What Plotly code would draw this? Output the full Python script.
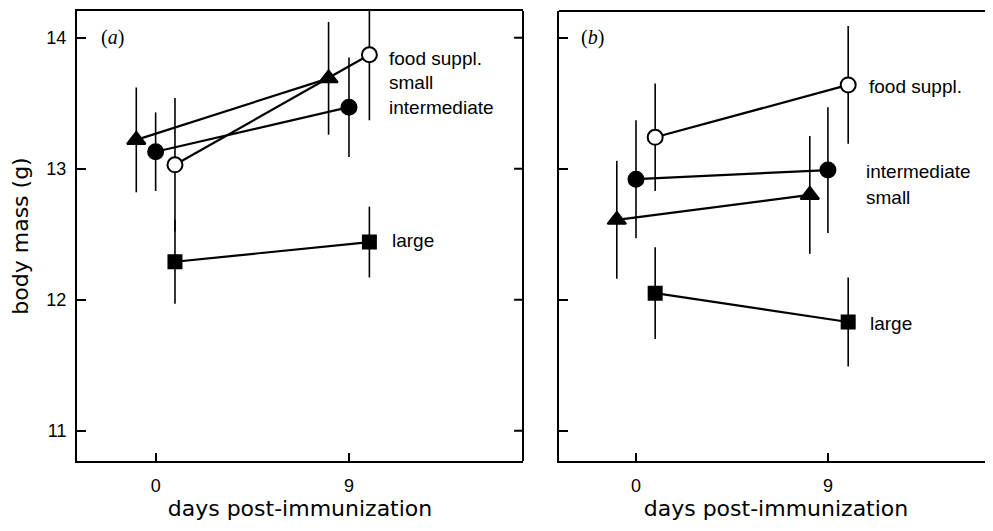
import plotly.graph_objects as go

# ---- data ----
# panel (a)
a_small_x = [-0.9, 8.05]
a_small_y = [13.22, 13.69]
a_small_e = [0.40, 0.43]
a_inter_x = [0, 9]
a_inter_y = [13.13, 13.47]
a_inter_e = [0.30, 0.38]
a_food_x = [0.9, 9.95]
a_food_y = [13.03, 13.87]
a_food_e = [0.51, 0.50]
a_large_x = [0.9, 9.95]
a_large_y = [12.29, 12.44]
a_large_e = [0.32, 0.27]

# panel (b)
b_small_x = [-0.9, 8.15]
b_small_y = [12.61, 12.80]
b_small_e = [0.45, 0.45]
b_inter_x = [0, 9]
b_inter_y = [12.92, 12.99]
b_inter_e = [0.45, 0.48]
b_food_x = [0.9, 9.95]
b_food_y = [13.24, 13.64]
b_food_e = [0.41, 0.45]
b_large_x = [0.9, 9.95]
b_large_y = [12.05, 11.83]
b_large_e = [0.35, 0.34]

x_ticks = [0, 9]
x_ticktext = ["0", "9"]
y_ticks = [11, 12, 13, 14]
y_ticktext = ["11", "12", "13", "14"]

labels_a = [("food suppl.", 10.77, 13.84), ("small", 10.77, 13.66),
            ("intermediate", 10.77, 13.47), ("large", 10.9, 12.45)]
labels_b = [("food suppl.", 10.83, 13.63), ("intermediate", 10.69, 12.98),
            ("small", 10.69, 12.78), ("large", 10.88, 11.82)]

fig = go.Figure()

def add_series(x, y, e, symbol, fill, size, xa, ya):
    fig.add_trace(go.Scatter(
        x=x, y=y, mode="lines+markers", xaxis=xa, yaxis=ya,
        line=dict(color="black", width=2.2),
        marker=dict(symbol=symbol, size=size, color=fill,
                    line=dict(color="black", width=2)),
        error_y=dict(type="data", array=e, visible=True, color="black",
                     thickness=1.6, width=0),
        showlegend=False, hoverinfo="skip"))

add_series(a_large_x, a_large_y, a_large_e, "square", "black", 13, "x", "y")
add_series(a_small_x, a_small_y, a_small_e, "triangle-up", "black", 16, "x", "y")
add_series(a_inter_x, a_inter_y, a_inter_e, "circle", "black", 15, "x", "y")
add_series(a_food_x, a_food_y, a_food_e, "circle", "white", 15, "x", "y")
add_series(b_large_x, b_large_y, b_large_e, "square", "black", 13, "x2", "y2")
add_series(b_small_x, b_small_y, b_small_e, "triangle-up", "black", 16, "x2", "y2")
add_series(b_inter_x, b_inter_y, b_inter_e, "circle", "black", 15, "x2", "y2")
add_series(b_food_x, b_food_y, b_food_e, "circle", "white", 15, "x2", "y2")

tickfont = dict(family="Liberation Sans, Arial, sans-serif", size=18, color="black")
titlefont = dict(family="DejaVu Sans, sans-serif", size=22, color="black")

xcommon = dict(tickvals=x_ticks, ticktext=x_ticktext,
               ticks="inside", ticklen=8, tickwidth=2, tickcolor="black",
               showline=True, linecolor="black", linewidth=2,
               showgrid=False, zeroline=False, tickfont=tickfont,
               ticklabelstandoff=7,
               title=dict(text="days post-immunization", font=titlefont, standoff=0))
ycommon = dict(range=[10.769, 14.204], tickvals=y_ticks, ticktext=y_ticktext,
               ticks="inside", ticklen=9, tickwidth=2, tickcolor="black",
               showline=True, linecolor="black", linewidth=2, mirror=False,
               showgrid=False, zeroline=False, tickfont=tickfont)

fig.update_layout(
    width=985, height=523,
    margin=dict(l=69, r=0, t=3, b=70),
    paper_bgcolor="white", plot_bgcolor="white",
    xaxis=dict(domain=[0, 0.4869], anchor="y", mirror=True, range=[-3.66, 17.1], **xcommon),
    xaxis2=dict(domain=[0.5262, 1.0], anchor="y2", mirror=False, range=[-3.61, 16.74], **xcommon),
    yaxis=dict(domain=[0, 1], anchor="x", ticklabelstandoff=5,
               title=dict(text="body mass (g)", font=titlefont, standoff=12), **ycommon),
    yaxis2=dict(domain=[0, 1], anchor="x2", showticklabels=False, **ycommon),
)

# frame pieces: right side of panel (a) with inward ticks, top of panel (b)
frame = dict(color="black", width=2)
fig.add_shape(type="line", xref="x domain", yref="y domain", x0=1, x1=1, y0=0, y1=1, line=frame)
for t in y_ticks:
    fig.add_shape(type="line", xref="x domain", yref="y", x0=1, x1=0.98, y0=t, y1=t, line=frame)
fig.add_shape(type="line", xref="x2 domain", yref="y2 domain", x0=0, x1=1.02, y0=1, y1=1,
              line=frame)

annos = []
for txt, x, y in labels_a:
    annos.append(dict(text=txt, x=x, y=y, xref="x", yref="y", xanchor="left",
                      yanchor="middle", showarrow=False,
                      font=dict(family="Liberation Sans, Arial, sans-serif", size=19, color="black")))
for txt, x, y in labels_b:
    annos.append(dict(text=txt, x=x, y=y, xref="x2", yref="y2", xanchor="left",
                      yanchor="middle", showarrow=False,
                      font=dict(family="Liberation Sans, Arial, sans-serif", size=19, color="black")))
panel_font = dict(family="Liberation Serif, Times New Roman, serif", size=20, color="black")
annos.append(dict(text="(<i>a</i>)", x=-2.64, y=14.0, xref="x", yref="y", xanchor="left",
                  yanchor="middle", showarrow=False, font=panel_font))
annos.append(dict(text="(<i>b</i>)", x=-2.67, y=14.0, xref="x2", yref="y2", xanchor="left",
                  yanchor="middle", showarrow=False, font=panel_font))
fig.update_layout(annotations=annos)

fig.write_html("out.html")
